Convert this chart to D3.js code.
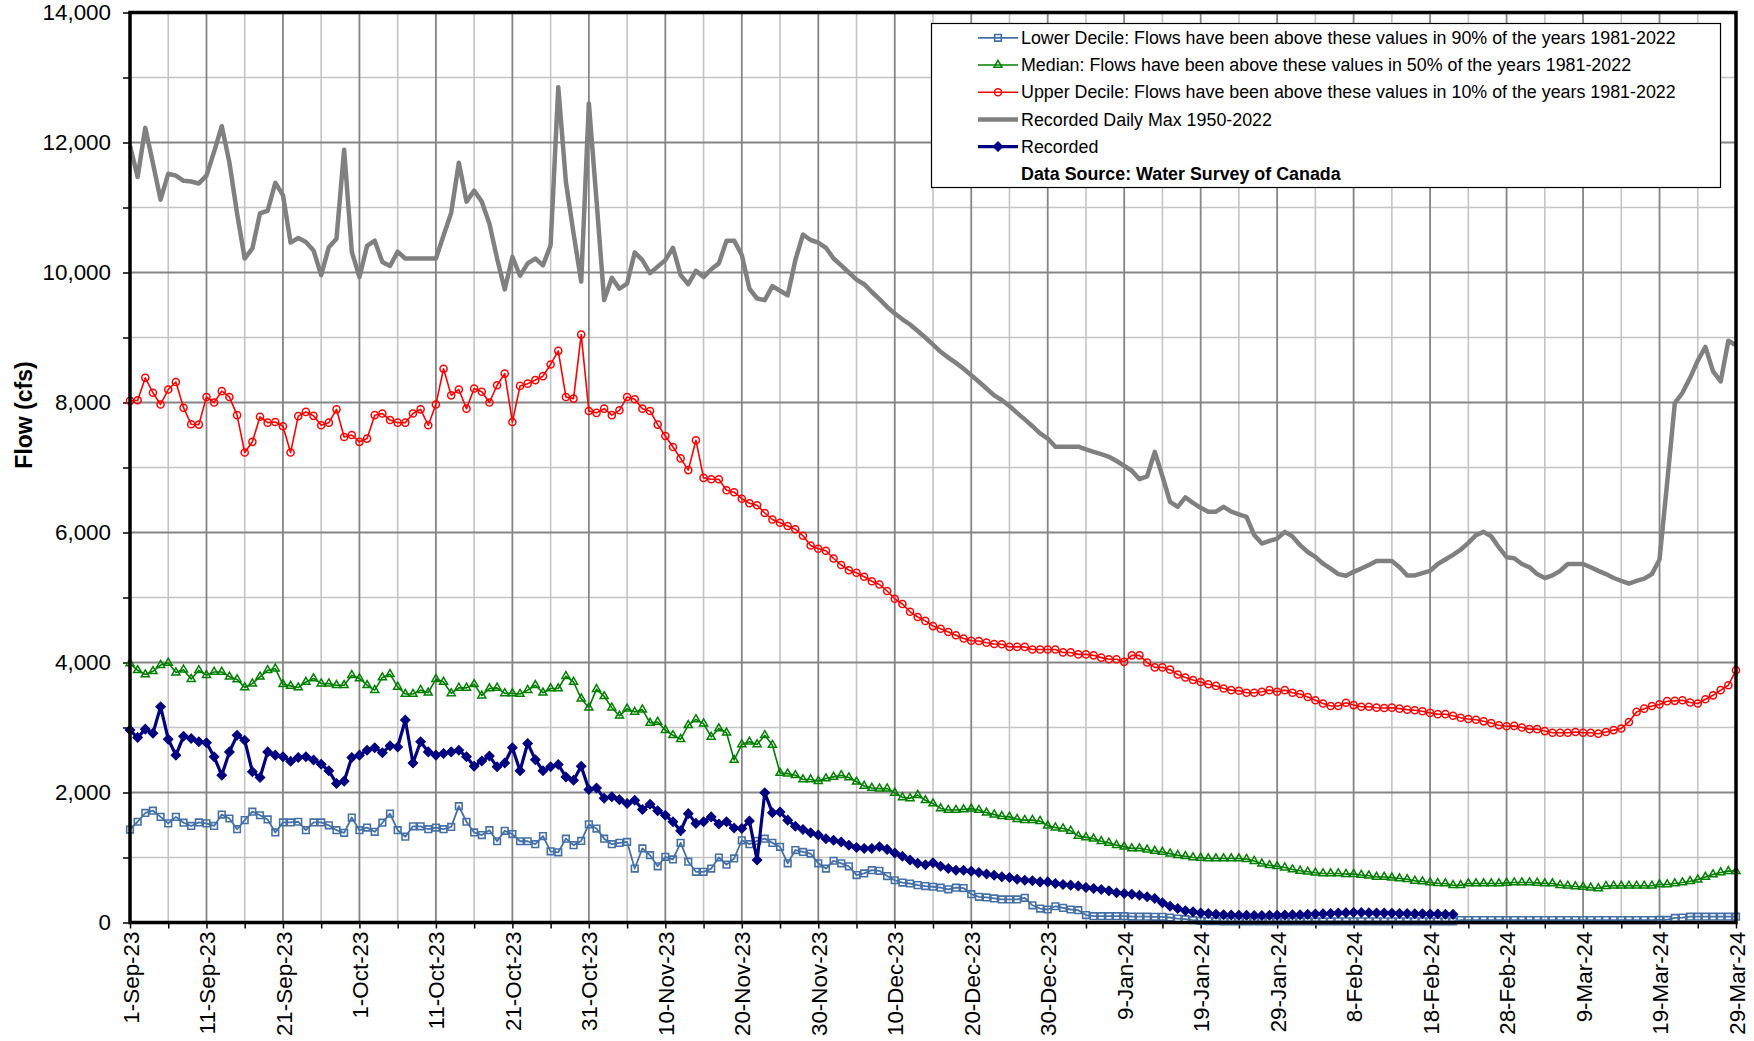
<!DOCTYPE html>
<html><head><meta charset="utf-8">
<script src="https://cdn.jsdelivr.net/npm/d3@7/dist/d3.min.js"></script>
<style>
html,body{margin:0;padding:0;background:#fff;}
text{font-family:Arial,"Liberation Sans",sans-serif;}
</style></head>
<body>
<svg id="chart" width="1754" height="1041"></svg>
<script>
// ---------- DATA (one value per day, starting 1-Sep-2023) ----------
const startDate = "2023-09-01";
const endDate = "2024-03-29";

const xTickLabels = ["1-Sep-23","11-Sep-23","21-Sep-23","1-Oct-23","11-Oct-23","21-Oct-23","31-Oct-23",
  "10-Nov-23","20-Nov-23","30-Nov-23","10-Dec-23","20-Dec-23","30-Dec-23","9-Jan-24","19-Jan-24",
  "29-Jan-24","8-Feb-24","18-Feb-24","28-Feb-24","9-Mar-24","19-Mar-24","29-Mar-24"];
const yTickValues = [0,2000,4000,6000,8000,10000,12000,14000];

const seriesNames = [
  "Lower Decile: Flows have been above these values in 90% of the years 1981-2022",
  "Median: Flows have been above these values in 50% of the years 1981-2022",
  "Upper Decile: Flows have been above these values in 10% of the years 1981-2022",
  "Recorded Daily Max 1950-2022",
  "Recorded"
];

const lowerDecile = [1430,1550,1685,1720,1625,1525,1625,1535,1485,1540,1525,1485,1660,1600,1435,1575,1705,1650,1585,1385,
 1540,1540,1550,1420,1540,1540,1495,1420,1380,1615,1420,1460,1395,1535,1675,1420,1320,1480,1480,1435,
 1460,1435,1470,1790,1550,1385,1345,1420,1250,1410,1360,1250,1250,1205,1330,1095,1080,1290,1190,1255,
 1510,1445,1290,1205,1225,1240,830,1140,1035,865,1010,970,1225,935,780,780,830,1000,890,985,
 1265,1205,1255,1290,1225,1165,910,1115,1085,1060,910,830,950,910,865,730,755,805,795,715,
 650,615,600,575,560,550,535,510,535,530,436,395,385,370,355,355,355,380,265,215,
 200,250,225,200,190,115,97,97,97,97,97,92,90,90,88,87,77,61,51,36,
 26,22,20,18,18,18,17,17,17,17,17,17,17,17,17,17,17,17,18,18,
 18,18,18,18,18,18,18,18,18,18,18,18,18,18,38,38,38,38,38,38,
 38,38,38,38,38,38,38,38,38,38,38,38,38,38,38,38,38,38,38,38,
 40,40,70,75,90,90,90,90,90,90,90];

const median = [3985,3880,3815,3865,3960,3995,3845,3890,3745,3880,3805,3855,3855,3780,3740,3615,3675,3780,3880,3905,
 3665,3640,3615,3700,3755,3675,3675,3650,3650,3805,3755,3650,3575,3770,3820,3625,3515,3515,3575,3535,
 3745,3700,3525,3610,3610,3665,3490,3600,3610,3525,3525,3515,3575,3650,3535,3600,3600,3790,3700,3445,
 3305,3590,3480,3305,3180,3290,3240,3275,3070,3085,2960,2880,2820,3035,3125,3060,2855,2985,2920,2500,
 2740,2780,2740,2880,2730,2300,2290,2265,2200,2200,2175,2215,2240,2265,2230,2165,2100,2070,2060,2060,
 1995,1925,1910,1960,1880,1830,1755,1730,1730,1740,1750,1730,1690,1660,1635,1625,1590,1575,1575,1560,
 1490,1460,1445,1410,1330,1310,1290,1250,1225,1190,1165,1140,1140,1120,1100,1085,1060,1035,1020,1000,
 995,985,985,985,985,985,975,945,905,880,865,845,815,795,780,765,755,755,755,745,
 745,730,720,700,700,690,677,665,641,630,615,605,600,574,574,600,600,600,600,600,
 610,615,615,615,610,600,600,575,565,555,548,535,525,560,565,565,565,565,565,565,
 585,585,600,615,635,660,700,740,770,790,790];

const upperDecile = [8025,8035,8380,8150,7970,8200,8315,7920,7665,7660,8085,8000,8175,8085,7805,7230,7395,7780,7690,7700,
 7635,7230,7790,7855,7795,7650,7690,7895,7470,7500,7395,7445,7805,7830,7730,7690,7690,7830,7895,7650,
 7970,8520,8110,8200,7905,8215,8165,8000,8265,8445,7700,8255,8290,8345,8405,8585,8795,8085,8060,9045,
 7870,7840,7905,7805,7880,8085,8050,7905,7870,7660,7485,7315,7140,6960,7420,6840,6820,6820,6650,6620,
 6520,6450,6420,6300,6200,6150,6100,6050,5950,5800,5750,5720,5600,5500,5420,5380,5320,5250,5200,5100,
 4980,4900,4780,4700,4640,4560,4520,4470,4420,4370,4335,4330,4305,4285,4280,4240,4240,4240,4200,4200,
 4200,4200,4155,4155,4125,4125,4110,4075,4050,4050,4010,4110,4110,4000,3925,3925,3890,3815,3770,3730,
 3700,3665,3640,3600,3575,3565,3535,3535,3550,3575,3550,3575,3535,3515,3470,3420,3370,3330,3330,3380,
 3345,3320,3320,3305,3300,3305,3290,3275,3265,3250,3225,3205,3205,3180,3150,3130,3120,3095,3070,3035,
 3020,3025,3000,2975,2975,2945,2920,2920,2920,2930,2920,2920,2905,2930,2960,2985,3085,3240,3290,3330,
 3355,3405,3410,3420,3385,3370,3435,3495,3575,3650,3880];

const dailyMax = [11950,11470,12225,11680,11120,11520,11490,11410,11400,11370,11490,11860,12250,11690,10910,10215,10370,10910,10950,11380,
 11190,10460,10530,10470,10340,9960,10390,10520,11890,10320,9930,10410,10490,10160,10100,10320,10215,10215,10215,10215,
 10215,10570,10920,11690,11090,11260,11090,10750,10215,9740,10240,9950,10140,10215,10110,10420,12850,11390,10600,9860,
 12600,11110,9575,9920,9750,9830,10310,10190,9990,10090,10190,10380,9960,9820,10025,9930,10050,10140,10490,10490,
 10270,9750,9600,9575,9790,9720,9650,10190,10585,10500,10460,10380,10215,10110,10000,9890,9820,9700,9590,9470,
 9370,9280,9200,9100,9000,8890,8780,8690,8610,8520,8420,8320,8215,8110,8035,7945,7840,7740,7635,7525,
 7445,7320,7320,7320,7320,7280,7240,7205,7165,7100,7025,6950,6820,6865,7240,6865,6470,6395,6540,6455,
 6380,6320,6320,6395,6320,6280,6240,5960,5830,5870,5905,6010,5940,5805,5700,5625,5520,5445,5360,5335,
 5395,5445,5500,5560,5560,5560,5465,5340,5340,5375,5410,5515,5585,5655,5735,5840,5960,6010,5940,5770,
 5620,5605,5515,5465,5360,5300,5340,5410,5515,5515,5515,5465,5410,5360,5300,5255,5215,5255,5290,5360,
 5585,6770,7990,8150,8380,8645,8855,8480,8325,8950,8880];

const recorded = [2960,2845,2975,2910,3320,2820,2575,2865,2830,2780,2765,2550,2265,2625,2880,2805,2320,2230,2625,2575,
 2550,2480,2540,2550,2500,2435,2335,2140,2175,2540,2575,2650,2690,2610,2720,2700,3115,2455,2780,2625,
 2575,2600,2625,2650,2550,2405,2485,2560,2395,2455,2690,2335,2755,2505,2335,2395,2430,2240,2190,2405,
 2045,2070,1910,1935,1890,1830,1880,1740,1820,1720,1650,1550,1410,1675,1525,1550,1625,1515,1550,1455,
 1445,1560,960,1995,1690,1700,1575,1480,1430,1380,1345,1290,1265,1240,1190,1155,1140,1140,1165,1125,
 1070,1020,960,910,890,920,865,830,805,805,790,770,745,728,702,692,666,651,641,625,
 625,600,585,575,560,540,523,508,487,456,446,436,420,395,370,303,251,215,180,164,
 148,138,128,120,115,112,110,108,108,110,112,115,118,120,125,130,135,140,145,150,
 155,155,150,148,145,142,140,138,135,135,132,130,128,125];

// ---------- CHART ----------
const svg = d3.select("#chart");
const L = 130, R = 1736, T = 12.5, B = 922.5;

const t0 = new Date(startDate + "T00:00:00Z");
const t1 = new Date(endDate + "T00:00:00Z");
const dayOf = i => d3.utcDay.offset(t0, i);
const x = d3.scaleUtc().domain([t0, t1]).range([L, R]);
const y = d3.scaleLinear().domain([0, 14000]).range([B, T]);

const nDays = d3.utcDay.count(t0, t1);
const minorDates = d3.range(0, nDays + 1, 5).map(dayOf);
const majorDates = d3.range(0, nDays + 1, 10).map(dayOf);
const minorY = d3.range(0, 14001, 1000);

// gridlines
const grid = svg.append("g");
grid.selectAll(".vminor").data(minorDates.filter((d,i)=>i%2===1)).join("line")
  .attr("x1", d=>x(d)).attr("x2", d=>x(d)).attr("y1", T).attr("y2", B)
  .attr("stroke", "#c4c4c4").attr("stroke-width", 1.6);
grid.selectAll(".hminor").data(minorY.filter(v=>v%2000!==0)).join("line")
  .attr("x1", L).attr("x2", R).attr("y1", d=>y(d)).attr("y2", d=>y(d))
  .attr("stroke", "#c4c4c4").attr("stroke-width", 1.6);
grid.selectAll(".vmajor").data(majorDates).join("line")
  .attr("x1", d=>x(d)).attr("x2", d=>x(d)).attr("y1", T).attr("y2", B)
  .attr("stroke", "#858585").attr("stroke-width", 1.8);
grid.selectAll(".hmajor").data(yTickValues).join("line")
  .attr("x1", L).attr("x2", R).attr("y1", d=>y(d)).attr("y2", d=>y(d))
  .attr("stroke", "#858585").attr("stroke-width", 1.8);

// axes
const yMinorAxis = d3.axisLeft(y).tickValues(minorY).tickSize(7).tickFormat("");
svg.append("g").attr("transform", `translate(${L},0)`).call(yMinorAxis)
  .call(g=>g.select(".domain").remove())
  .call(g=>g.selectAll("line").attr("stroke","#000").attr("stroke-width",1.5));
const yAxis = d3.axisLeft(y).tickValues(yTickValues).tickSize(0).tickPadding(19).tickFormat(d3.format(","));
svg.append("g").attr("transform", `translate(${L},0)`).call(yAxis)
  .call(g=>g.select(".domain").remove())
  .call(g=>g.selectAll("text").attr("font-size", 22.4).attr("fill","#000")
     .attr("font-family","Arial, 'Liberation Sans', sans-serif"));

const xMinorAxis = d3.axisBottom(x).tickValues(minorDates).tickSize(6).tickFormat("");
svg.append("g").attr("transform", `translate(0,${B})`).call(xMinorAxis)
  .call(g=>g.select(".domain").remove())
  .call(g=>g.selectAll("line").attr("stroke","#000").attr("stroke-width",1.5));
const xAxis = d3.axisBottom(x).tickValues(majorDates).tickSize(0).tickFormat((d,i)=>xTickLabels[i]);
svg.append("g").attr("transform", `translate(0,${B})`).call(xAxis)
  .call(g=>g.select(".domain").remove())
  .call(g=>g.selectAll("text")
     .attr("font-size", 22.4).attr("fill","#000")
     .attr("font-family","Arial, 'Liberation Sans', sans-serif")
     .attr("text-anchor","end")
     .attr("transform","rotate(-90)")
     .attr("x", -9).attr("y", 0).attr("dy","0.36em"));

// y title
svg.append("text").attr("transform","translate(24,415) rotate(-90)")
  .attr("text-anchor","middle").attr("dy","0.36em")
  .attr("font-size", 23).attr("font-weight","bold").text("Flow (cfs)");

// series
const lineGen = d3.line().x((d,i)=>x(dayOf(i))).y(d=>y(d));
const plot = svg.append("g");

function drawSeries(data, color, width, symbol, symSize, fill, rotate, symStroke) {
  plot.append("path").datum(data).attr("d", lineGen)
    .attr("fill","none").attr("stroke", color).attr("stroke-width", width)
    .attr("stroke-linejoin","round");
  if (symbol) {
    const sym = d3.symbol().type(symbol).size(symSize);
    plot.append("g").selectAll("path").data(data).join("path")
      .attr("d", sym)
      .attr("transform", (d,i)=>`translate(${x(dayOf(i))},${y(d)})` + (rotate?` rotate(${rotate})`:""))
      .attr("fill", fill).attr("stroke", color).attr("stroke-width", symStroke);
  }
}

const cLower = "#4470a8", cMedian = "#008000", cUpper = "#ff0000", cMax = "#808080", cRec = "#000080";
drawSeries(lowerDecile, cLower, 1.8, d3.symbolSquare, 44, "none", 0, 1.6);
drawSeries(median, cMedian, 1.6, d3.symbolTriangle, 28, "none", 0, 1.5);
drawSeries(upperDecile, cUpper, 1.6, d3.symbolCircle, 40, "none", 0, 1.5);
drawSeries(dailyMax, cMax, 4.5, null);
drawSeries(recorded, cRec, 3.2, d3.symbolSquare, 46, cRec, 45, 1);

// frame
svg.append("rect").attr("x", L).attr("y", T).attr("width", R-L).attr("height", B-T)
  .attr("fill","none").attr("stroke","#000").attr("stroke-width",3.5);

// legend
const lg = svg.append("g");
lg.append("rect").attr("x", 931.5).attr("y", 23.5).attr("width", 789).attr("height", 164)
  .attr("fill","#fff").attr("stroke","#000").attr("stroke-width",1.2);
const legendItems = [
  {name: seriesNames[0], color:cLower, w:1.8, sym:d3.symbolSquare, size:44, fill:"none", rot:0, ss:1.6},
  {name: seriesNames[1], color:cMedian, w:1.6, sym:d3.symbolTriangle, size:28, fill:"none", rot:0, ss:1.5},
  {name: seriesNames[2], color:cUpper, w:1.6, sym:d3.symbolCircle, size:40, fill:"none", rot:0, ss:1.5},
  {name: seriesNames[3], color:cMax, w:4.5, sym:null},
  {name: seriesNames[4], color:cRec, w:3.2, sym:d3.symbolSquare, size:46, fill:cRec, rot:45, ss:1}
];
legendItems.forEach((it, i) => {
  const cy = 37.8 + i*27.2;
  lg.append("line").attr("x1", 978).attr("x2", 1018).attr("y1", cy).attr("y2", cy)
    .attr("stroke", it.color).attr("stroke-width", it.w);
  if (it.sym) {
    lg.append("path").attr("d", d3.symbol().type(it.sym).size(it.size))
      .attr("transform", `translate(998,${cy})` + (it.rot?` rotate(${it.rot})`:""))
      .attr("fill", it.fill).attr("stroke", it.color).attr("stroke-width", it.ss);
  }
  lg.append("text").attr("x", 1021).attr("y", cy).attr("dy","0.35em")
    .attr("font-size", 17.85).text(it.name);
});
lg.append("text").attr("x", 1021).attr("y", 37.8 + 5*27.2).attr("dy","0.35em")
  .attr("font-size", 17.85).attr("font-weight","bold").text("Data Source: Water Survey of Canada");
</script>
</body></html>
